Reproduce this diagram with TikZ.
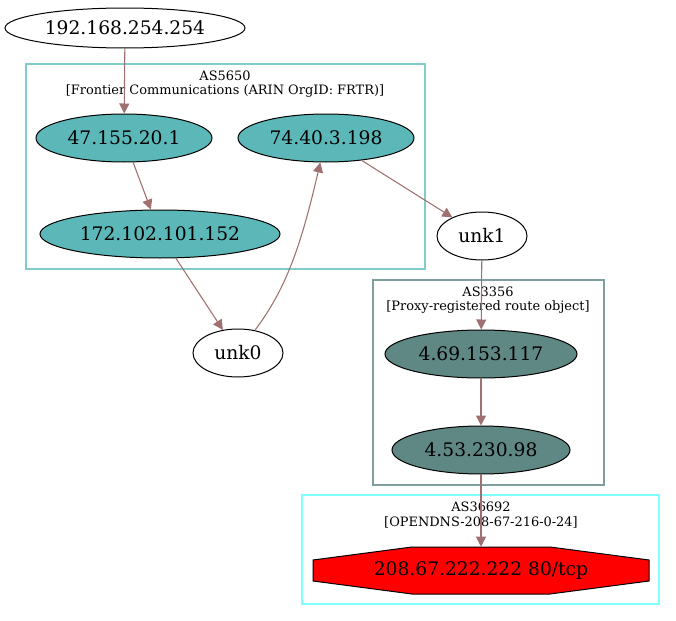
\documentclass[tikz,border=0pt]{standalone}
\usepackage{fontspec}
\setmainfont{DejaVu Serif}
\usepackage{tikz}
\usetikzlibrary{shapes.geometric, arrows.meta}
\definecolor{frtrfill}{HTML}{5CB8B8}
\definecolor{frtrline}{HTML}{80CCC8}
\definecolor{lvltfill}{HTML}{5F8784}
\definecolor{lvltline}{HTML}{7F9E9E}
\definecolor{dnsline}{HTML}{80FFFF}
\definecolor{hopcol}{HTML}{A07070}

\begin{document}
\begin{tikzpicture}[x=0.75pt, y=-0.75pt,
  host/.style={ellipse, draw, line width=0.75pt, inner sep=0pt, minimum height=36pt, font=\fontsize{14}{16}\selectfont},
  hop/.style={draw=hopcol, line width=0.8pt, -{Triangle[length=7.5pt, width=7.5pt]}},
  cluster/.style={line width=1pt},
  clabel/.style={font=\fontsize{9.7}{10.6}\selectfont, align=center, inner sep=0pt}]

\useasboundingbox (0,0) rectangle (676,621);

% AS clusters
\draw[cluster, frtrline] (26,64) rectangle (425,269);
\node[clabel] (as5650) at (225,84) {AS5650\\{}[Frontier Communications (ARIN OrgID: FRTR)]};

\draw[cluster, lvltline] (373,280) rectangle (604,485);
\node[clabel] (as3356) at (488,300) {AS3356\\{}[Proxy-registered route object]};

\draw[cluster, dnsline] (302,495) rectangle (659,604);
\node[clabel] (as36692) at (481,515) {AS36692\\{}[OPENDNS-208-67-216-0-24]};

% hosts
\node[host, minimum width=180pt, minimum height=30pt] (src) at (125,28) {192.168.254.254};
\node[host, fill=frtrfill, minimum width=132pt] (h47) at (124,138) {47.155.20.1};
\node[host, fill=frtrfill, minimum width=132pt] (h74) at (326,138) {74.40.3.198};
\node[host, fill=frtrfill, minimum width=180pt] (h172) at (160,234) {172.102.101.152};
\node[host, minimum width=67.5pt] (unk0) at (238,353) {unk0};
\node[host, minimum width=67.5pt] (unk1) at (482,236) {unk1};
\node[host, fill=lvltfill, minimum width=144pt] (h469) at (481,354) {4.69.153.117};
\node[host, fill=lvltfill, minimum width=133.5pt] (h453) at (481,450) {4.53.230.98};

% target
\filldraw[fill=red, draw=black, line width=0.75pt] (313,560) -- (412,547) -- (550,547) -- (649,560)
  -- (649,581) -- (550,594) -- (412,594) -- (313,581) -- cycle;
\node[font=\fontsize{14}{16}\selectfont, minimum height=35.25pt, minimum width=252pt] (dst) at (481,570.5) {208.67.222.222 80/tcp};

% hops
\draw[hop] (src) -- (h47);
\draw[hop] (h47) -- (h172);
\draw[hop] (h172) -- (unk0);
\draw[hop] (unk0) .. controls (285,290) and (300,250) .. (h74);
\draw[hop] (h74) -- (unk1);
\draw[hop] (unk1) -- (h469);
\draw[hop] (h469) -- (h453);
\draw[hop] (h453) -- (dst);
\end{tikzpicture}
\end{document}
